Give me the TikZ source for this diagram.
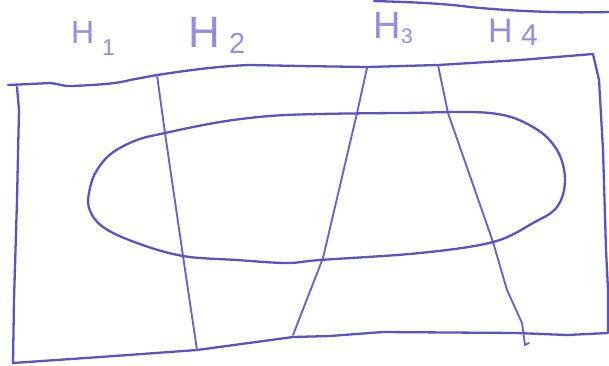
\documentclass[tikz,border=0pt]{standalone}
\usepackage{fontspec}
\setmainfont{Liberation Sans}
\definecolor{pen}{RGB}{92,82,196}
\definecolor{penlight}{RGB}{150,140,228}
\tikzset{
  stroke/.style={draw=pen, line width=2.3pt, line cap=round, line join=round},
  thin stroke/.style={draw=pen!90, line width=1.9pt, line cap=round, line join=round},
  lab/.style={text=penlight, inner sep=0pt, anchor=south west},
}
\begin{document}
\begin{tikzpicture}[x=1pt,y=-1pt]
\useasboundingbox (0,0) rectangle (609,365);
% labels
\node[lab, font=\fontsize{32}{32}\selectfont] (h1) at (71,44) {H};
\node[lab, font=\fontsize{23}{23}\selectfont] (n1) at (102,56) {1};
\node[lab, font=\fontsize{44}{44}\selectfont] (h2) at (188,48) {H};
\node[lab, font=\fontsize{29}{29}\selectfont] (n2) at (229,54) {2};
\node[lab, font=\fontsize{38}{38}\selectfont] (h3) at (373,39) {H};
\node[lab, font=\fontsize{21}{21}\selectfont] (n3) at (401,44) {3};
\node[lab, font=\fontsize{34}{34}\selectfont] (h4) at (488,43) {H};
\node[lab, font=\fontsize{30}{30}\selectfont] (n4) at (521,46) {4};
% stray line at the top
\draw[stroke] (374,1) .. controls (405,2) and (440,3) .. (470,7)
  .. controls (520,12) and (570,13) .. (609,12);
% outer frame
\draw[stroke] (8,85) -- (30,84) -- (50,83) .. controls (60,84) and (65,87) .. (72,86)
  .. controls (95,85) and (115,84) .. (130,80) -- (157,75)
  .. controls (190,70) and (220,66) .. (250,65) -- (300,66) -- (367,67)
  -- (438,65) -- (520,60) -- (593,54)
  -- (599,80) -- (603,150) -- (606,250) -- (608,290) -- (608,333)
  -- (567,335) -- (517,333) -- (383,332) -- (330,336)
  -- (293,337) -- (197,350) -- (100,357) -- (13,363)
  -- (14,300) -- (17,200) -- (19,110) -- (17,87);
% H lines
\draw[thin stroke] (157,75) -- (165,133) -- (183,256) -- (197,350);
\draw[thin stroke] (367,68) -- (357,113) -- (323,258) -- (293,335);
\draw[thin stroke] (438,65) -- (448,113) -- (493,242) -- (507,290) -- (522,323) -- (525,345) -- (529,343);
% closed curve
\draw[stroke] plot[smooth cycle, tension=0.6] coordinates {
  (165,133) (220,122) (270,116) (320,114) (400,113) (490,113) (533,127)
  (557,150) (565,180) (557,207) (533,223) (493,242) (420,253) (320,260)
  (287,263) (237,260) (183,256) (137,243) (103,227) (89,208) (90,188)
  (97,170) (112,153) (137,140)};
\end{tikzpicture}
\end{document}
